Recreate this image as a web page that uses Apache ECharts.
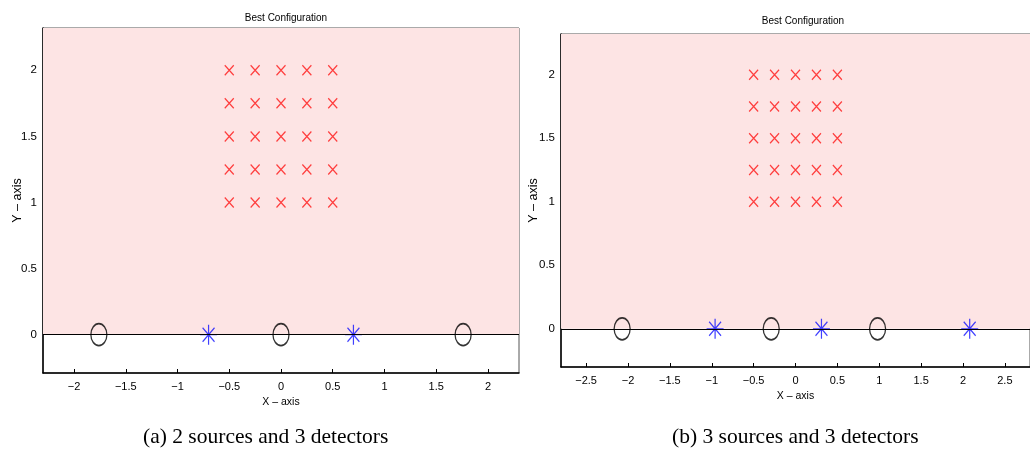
<!DOCTYPE html>
<html>
<head>
<meta charset="utf-8">
<script src="https://cdn.jsdelivr.net/npm/echarts@6/dist/echarts.min.js"></script>
<style>
  html, body { margin: 0; padding: 0; background: #fff; }
  #chart { width: 1030px; height: 452px; }
</style>
</head>
<body>
<div id="chart"></div>
<script>
// tick labels
const yTicks = [0, 0.5, 1, 1.5, 2];
const xTicksA = [-2, -1.5, -1, -0.5, 0, 0.5, 1, 1.5, 2];
const xTicksB = [-2.5, -2, -1.5, -1, -0.5, 0, 0.5, 1, 1.5, 2, 2.5];
// axis ranges
const xRangeA = [-2.3, 2.3];
const xRangeB = [-2.8, 2.8];
const yRangeA = [-0.29, 2.32];
const yRangeB = [-0.3, 2.32];
// candidate grid (red x)
const gridX = [-0.5, -0.25, 0, 0.25, 0.5];
const gridY = [1, 1.25, 1.5, 1.75, 2];
// (a) 2 sources, 3 detectors
const detectorsA = [-1.76, 0, 1.76];
const sourcesA = [-0.7, 0.7];
// (b) 3 sources, 3 detectors
const detectorsB = [-2.07, -0.29, 0.98];
const sourcesB = [-0.96, 0.31, 2.08];
const captions = ['(a) 2 sources and 3 detectors', '(b) 3 sources and 3 detectors'];

const chart = echarts.init(document.getElementById('chart'));

const candidates = [];
gridY.forEach(y => gridX.forEach(x => candidates.push([x, y])));

const minus = v => String(v).replace('-', '\u2212');
const FONT = 'Liberation Sans';

function xAxis(idx, range, ticks) {
  return {
    type: 'value', gridIndex: idx, min: range[0], max: range[1],
    name: 'X \u2013 axis', nameLocation: 'middle', nameGap: 24,
    nameTextStyle: { fontFamily: FONT, fontSize: 10.5, color: '#000' },
    axisLine: { onZero: false, lineStyle: { color: '#000', width: 1.5 } },
    axisTick: { inside: true, length: 4, customValues: ticks, lineStyle: { color: '#000' } },
    axisLabel: { customValues: ticks, formatter: minus, margin: 8, fontFamily: FONT, fontSize: 11, color: '#000' },
    splitLine: { show: false }
  };
}
function yAxis(idx, range, gap) {
  return {
    type: 'value', gridIndex: idx, min: range[0], max: range[1],
    name: 'Y \u2013 axis', nameLocation: 'middle', nameGap: gap, nameMoveOverlap: false,
    nameTextStyle: { fontFamily: FONT, fontSize: 12.5, color: '#000' },
    axisLine: { onZero: false, lineStyle: { color: '#000', width: 1.5 } },
    axisTick: { inside: true, length: 4, customValues: yTicks, lineStyle: { color: '#000' } },
    axisLabel: { customValues: yTicks, formatter: minus, margin: 6, fontFamily: FONT, fontSize: 11.5, color: '#000' },
    splitLine: { show: false }
  };
}

const STAR = 'path://M0,-10L0,10M-10,0L10,0M-7,-7L7,7M-7,7L7,-7';
const CROSS = 'path://M-1,-1L1,1M-1,1L1,-1';

function panelSeries(idx, yMax, detectors, sources) {
  return [
    {
      type: 'scatter', xAxisIndex: idx, yAxisIndex: idx, z: 1,
      data: [], silent: true,
      markArea: { silent: true, itemStyle: { color: '#fde4e4', opacity: 1 }, data: [[{ yAxis: 0 }, { yAxis: yMax }]] },
      markLine: { silent: true, symbol: 'none', label: { show: false },
        lineStyle: { color: '#000', width: 1.2, type: 'solid' }, data: [{ yAxis: 0 }] }
    },
    {
      type: 'scatter', xAxisIndex: idx, yAxisIndex: idx, z: 3,
      symbol: CROSS, symbolSize: [9, 10],
      itemStyle: { color: 'none', borderColor: '#ff1414', borderWidth: 1.3 },
      data: candidates
    },
    {
      type: 'scatter', xAxisIndex: idx, yAxisIndex: idx, z: 3,
      symbol: 'circle', symbolSize: [16, 22],
      itemStyle: { color: 'rgba(0,0,0,0)', borderColor: '#000', borderWidth: 1.5 },
      data: detectors.map(x => [x, 0])
    },
    {
      type: 'scatter', xAxisIndex: idx, yAxisIndex: idx, z: 3,
      symbol: STAR, symbolSize: [17, 20],
      itemStyle: { color: 'none', borderColor: '#1010ff', borderWidth: 1.3 },
      data: sources.map(x => [x, 0])
    }
  ];
}

chart.setOption({
  animation: false,
  backgroundColor: '#fff',
  title: [
    { text: 'Best Configuration', left: 281, top: 8, textAlign: 'center',
      textStyle: { fontFamily: FONT, fontSize: 10, fontWeight: 'normal', color: '#000' } },
    { text: 'Best Configuration', left: 798, top: 11, textAlign: 'center',
      textStyle: { fontFamily: FONT, fontSize: 10, fontWeight: 'normal', color: '#000' } }
  ],
  grid: [
    { left: 43, top: 28, width: 476, height: 345, show: true, borderColor: '#555', borderWidth: 1, backgroundColor: '#fff' },
    { left: 561, top: 34, width: 477, height: 333, show: true, borderColor: '#555', borderWidth: 1, backgroundColor: '#fff' }
  ],
  xAxis: [xAxis(0, xRangeA, xTicksA), xAxis(1, xRangeB, xTicksB)],
  yAxis: [yAxis(0, yRangeA, 19), yAxis(1, yRangeB, 21)],
  series: [
    ...panelSeries(0, yRangeA[1], detectorsA, sourcesA),
    ...panelSeries(1, yRangeB[1], detectorsB, sourcesB)
  ],
  graphic: captions.map((t, i) => ({
    type: 'text', left: i === 0 ? 143 : 672, top: 426,
    style: { text: t, font: '21.5px "Liberation Serif"', fill: '#000' }
  }))
});
</script>
</body>
</html>
